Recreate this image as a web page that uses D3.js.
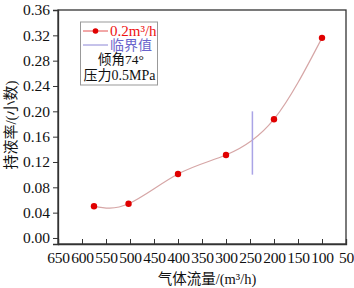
<!DOCTYPE html>
<html><head><meta charset="utf-8">
<script src="https://cdn.jsdelivr.net/npm/d3@7"></script>
<style>body{margin:0;background:#fff}svg{display:block}</style>
</head><body>
<script>
const gasFlow = [575, 503, 400, 300, 200, 100];
const holdup = [0.050, 0.054, 0.101, 0.131, 0.1875, 0.316];
const criticalX = [245, 245];
const criticalY = [0.10, 0.20];
const xTicks = [650, 600, 550, 500, 450, 400, 350, 300, 250, 200, 150, 100, 50];
const yTicks = [0.00, 0.04, 0.08, 0.12, 0.16, 0.20, 0.24, 0.28, 0.32, 0.36];
const legendLabels = ["0.2m³/h", "临界值", "倾角74°", "压力0.5MPa"];

const W = 354, H = 288;
const L = 58, R = 346, T = 10, B = 244;
const font = "'Liberation Serif','Noto Sans CJK SC',serif";
const svg = d3.select("body").append("svg").attr("width", W).attr("height", H);

const x = d3.scaleLinear().domain([650, 50]).range([L, R]);
const y = d3.scaleLinear().domain([-0.0095, 0.36]).range([B, T]);

// frame
svg.append("rect").attr("x", L).attr("y", T).attr("width", R - L).attr("height", B - T)
  .attr("fill", "none").attr("stroke", "#333").attr("stroke-width", 1.3);

const xa = svg.append("g").attr("transform", `translate(0,${B})`)
  .call(d3.axisBottom(x).tickValues(xTicks).tickFormat(d3.format("d")).tickSize(-5).tickPadding(8));
const ya = svg.append("g").attr("transform", `translate(${L},0)`)
  .call(d3.axisLeft(y).tickValues(yTicks).tickFormat(d3.format(".2f")).tickSize(5).tickPadding(3));
[xa, ya].forEach(a => {
  a.select(".domain").attr("stroke", "#333").attr("stroke-width", 1.3);
  a.selectAll(".tick line").attr("stroke", "#333").attr("stroke-width", 1);
  a.selectAll("text").attr("font-family", font).attr("font-size", 15.5).attr("fill", "#111");
});
xa.selectAll("text").attr("letter-spacing", -0.3);

// data curve
const pts = gasFlow.map((g, i) => [x(g), y(holdup[i])]);
svg.append("path").datum(pts)
  .attr("d", d3.line().curve(d3.curveNatural))
  .attr("fill", "none").attr("stroke", "#d6a6a6").attr("stroke-width", 1.2);
svg.selectAll("circle.pt").data(pts).enter().append("circle")
  .attr("cx", d => d[0]).attr("cy", d => d[1]).attr("r", 3.2).attr("fill", "#e00000");

// critical line
svg.append("line").attr("x1", x(criticalX[0])).attr("x2", x(criticalX[1]))
  .attr("y1", y(criticalY[0])).attr("y2", y(criticalY[1]))
  .attr("stroke", "#aaa4e6").attr("stroke-width", 1.5);

// legend
const lg = svg.append("g");
lg.append("rect").attr("x", 80.5).attr("y", 22).attr("width", 77).attr("height", 63)
  .attr("fill", "#fff").attr("stroke", "#999").attr("stroke-width", 1);
lg.append("line").attr("x1", 83).attr("x2", 108).attr("y1", 31).attr("y2", 31)
  .attr("stroke", "#e45050").attr("stroke-width", 1);
lg.append("circle").attr("cx", 95.5).attr("cy", 31).attr("r", 2.8).attr("fill", "#e00000");
lg.append("line").attr("x1", 83).attr("x2", 108).attr("y1", 45).attr("y2", 45)
  .attr("stroke", "#8c86d6").attr("stroke-width", 1);
lg.append("text").attr("x", 110).attr("y", 36).text(legendLabels[0])
  .attr("fill", "#ee1111").attr("font-family", font).attr("font-size", 15);
lg.append("text").attr("x", 110).attr("y", 50).text(legendLabels[1])
  .attr("fill", "#6a64cc").attr("font-family", font).attr("font-size", 14);
lg.append("text").attr("x", 121).attr("y", 64).attr("text-anchor", "middle").text(legendLabels[2])
  .attr("fill", "#111").attr("font-family", font).attr("font-size", 13.5);
lg.append("text").attr("x", 119.5).attr("y", 80).attr("text-anchor", "middle").text(legendLabels[3])
  .attr("fill", "#111").attr("font-family", font).attr("font-size", 14);

// axis titles
svg.append("text").attr("transform", `translate(16,125) rotate(-90)`).attr("text-anchor", "middle")
  .text("持液率/(小数)").attr("font-family", font).attr("font-size", 15).attr("fill", "#111");
svg.append("text").attr("x", 207).attr("y", 284).attr("text-anchor", "middle")
  .text("气体流量/(m³/h)").attr("font-family", font).attr("font-size", 14.5).attr("fill", "#111");
</script>
</body></html>
